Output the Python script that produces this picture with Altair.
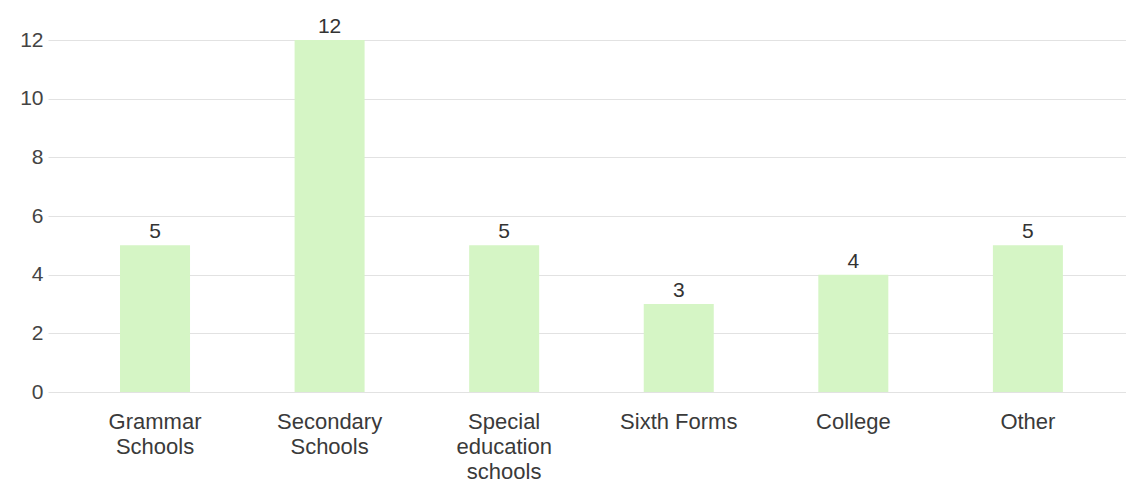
import altair as alt
import pandas as pd

categories = ["Grammar Schools", "Secondary Schools", "Special education schools",
              "Sixth Forms", "College", "Other"]
counts = [5, 12, 5, 3, 4, 5]
y_ticks = [0, 2, 4, 6, 8, 10, 12]

df = pd.DataFrame({"category": categories, "count": counts})

FONT = "Liberation Sans"

x_enc = alt.X(
    "category:N",
    sort=categories,
    title=None,
    scale=alt.Scale(paddingInner=0.599, paddingOuter=0.387, align=0.533),
    axis=alt.Axis(
        labelAngle=0,
        labelExpr="datum.value == 'Sixth Forms' ? datum.value : split(datum.value, ' ')",
        labelFont=FONT,
        labelFontSize=22,
        labelLineHeight=25,
        labelColor="#3a3a3a",
        labelPadding=19,
        labelBaseline="top",
        ticks=False,
        domain=False,
        grid=False,
        labelLimit=300,
    ),
)

y_enc = alt.Y(
    "count:Q",
    title=None,
    scale=alt.Scale(domain=[0, 12], nice=False),
    axis=alt.Axis(
        values=y_ticks,
        labelFont=FONT,
        labelFontSize=21,
        labelColor="#444444",
        labelPadding=5,
        ticks=False,
        domain=False,
        gridColor="#e2e2e2",
        gridWidth=1,
    ),
)

bars = alt.Chart(df).mark_bar(color="#d5f5c5").encode(x=x_enc, y=y_enc)

labels = alt.Chart(df).mark_text(
    font=FONT, fontSize=21, color="#333333", baseline="alphabetic", dy=-7
).encode(x=alt.X("category:N", sort=categories), y="count:Q", text="count:Q")

chart = (
    alt.layer(bars, labels)
    .properties(
        width=1078,
        height=352,
        autosize=alt.AutoSizeParams(type="none"),
        padding={"left": 48, "top": 40, "right": 0, "bottom": 89},
        background="white",
    )
    .configure_view(stroke=None)
)

chart.save("out.html", embed_options={"renderer": "svg", "actions": False})
